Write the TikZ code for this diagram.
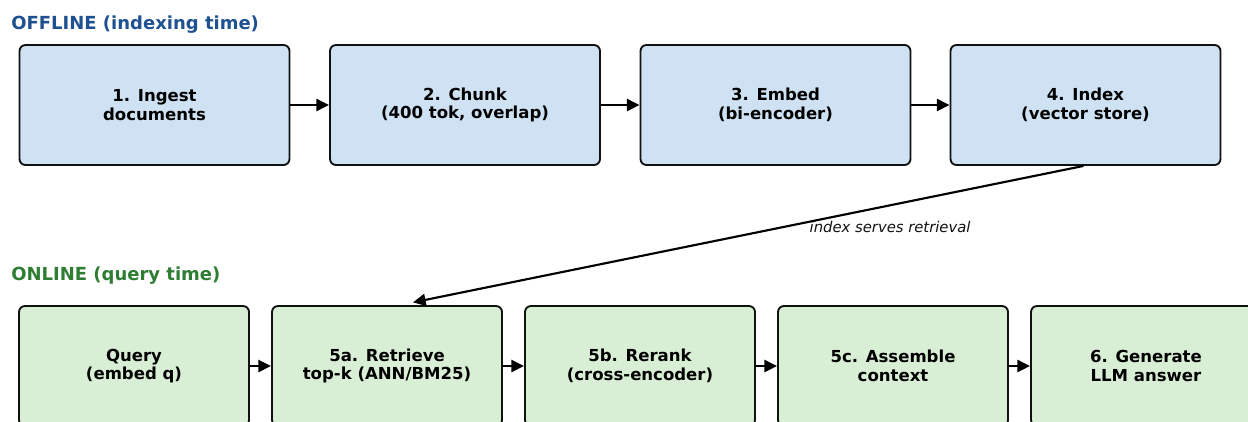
\documentclass[tikz,border=0pt]{standalone}
\usepackage{fontspec}
\setmainfont{DejaVu Sans}
\usetikzlibrary{arrows.meta,positioning}
\definecolor{ink}{HTML}{111111}
\definecolor{offblue}{HTML}{1F5190}
\definecolor{ongreen}{HTML}{2E7D32}
\definecolor{softblue}{HTML}{CFE2F3}
\definecolor{softgreen}{HTML}{D9EFD5}
\tikzset{
  stage/.style={draw=ink,line width=1.4pt,rounded corners=4.5pt,align=center,inner sep=0pt,
    minimum height=90pt,font=\fontsize{12.4}{13.8}\selectfont\bfseries,text=black},
  stagea/.style={stage,fill=softblue,minimum width=202.5pt},
  stageb/.style={stage,fill=softgreen,minimum width=172.5pt},
  head/.style={anchor=west,inner sep=0pt,font=\fontsize{13.5}{15}\selectfont\bfseries},
  note/.style={inner sep=0pt,font=\fontsize{11.1}{12}\selectfont\itshape,text=ink},
  ar/.style={-{Triangle[length=9.5pt,width=9pt]},draw=black,line width=1.6pt},
}
\begin{document}
\begin{tikzpicture}[x=0.75pt,y=-0.75pt]
  \useasboundingbox (0,0) rectangle (1248,421);
  \clip (0,0) rectangle (1248,421);
  % ── offline ──
  \node[head,text=offblue] (offtitle) at (11,24.5) {OFFLINE (indexing time)};
  \node[stagea] (ingest) at (154.5,105) {1. Ingest\\documents};
  \node[stagea] (chunk) at (465,105) {2. Chunk\\(400 tok, overlap)};
  \node[stagea] (embed) at (775.5,105) {3. Embed\\(bi-encoder)};
  \node[stagea] (index) at (1085.5,105) {4. Index\\(vector store)};
  \draw[ar] (ingest) -- (chunk);
  \draw[ar] (chunk) -- (embed);
  \draw[ar] (embed) -- (index);
  % ── online ──
  \node[head,text=ongreen] (ontitle) at (11,275.5) {ONLINE (query time)};
  \node[stageb] (query) at (134,366) {Query\\(embed q)};
  \node[stageb] (retrieve) at (387,366) {5a. Retrieve\\top-k (ANN/BM25)};
  \node[stageb] (rerank) at (640,366) {5b. Rerank\\(cross-encoder)};
  \node[stageb] (assemble) at (893,366) {5c. Assemble\\context};
  \node[stageb] (generate) at (1146,366) {6. Generate\\LLM answer};
  \draw[ar] (query) -- (retrieve);
  \draw[ar] (retrieve) -- (rerank);
  \draw[ar] (rerank) -- (assemble);
  \draw[ar] (assemble) -- (generate);
  % ── link ──
  \draw[ar] ([xshift=-1.5pt]index.south) -- node[note,pos=0.41,anchor=north west,yshift=1.5pt]{index serves retrieval} ([xshift=19.5pt,yshift=2pt]retrieve.north);
\end{tikzpicture}
\end{document}
